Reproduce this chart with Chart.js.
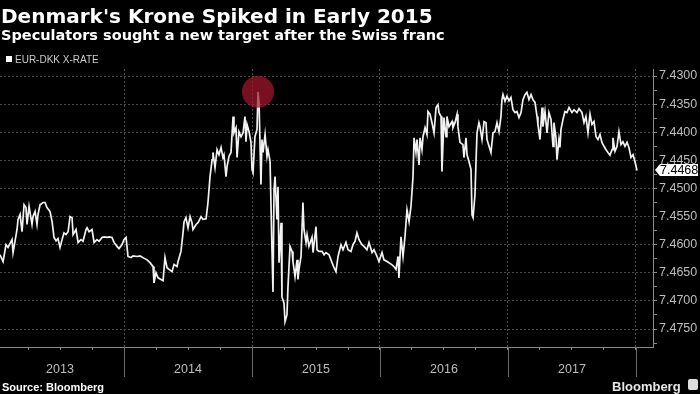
<!DOCTYPE html>
<html>
<head>
<meta charset="utf-8">
<script src="https://cdn.jsdelivr.net/npm/chart.js@4.4.1/dist/chart.umd.min.js"></script>
<style>
  html, body { margin: 0; padding: 0; background: #000; width: 700px; height: 394px; overflow: hidden; }
  #wrap { position: relative; width: 700px; height: 394px; }
  canvas { position: absolute; left: 0; top: 0; }
  .txt { position: absolute; white-space: nowrap; line-height: 1; }
  #title { left: 1px; top: 4px; font: bold 20px "DejaVu Sans"; color: #fff; }
  #subtitle { left: 1px; top: 27px; font: bold 14.5px "DejaVu Sans"; color: #fff; }
  #legendBox { position: absolute; left: 6px; top: 56px; width: 6px; height: 6px; background: #fff; }
  #legendTxt { left: 15px; top: 54px; font: 10px "Liberation Sans"; color: #ccc; }
  #source { left: 2px; top: 381px; font: bold 11px "Liberation Sans"; color: #fff; }
  #brand { left: 612px; top: 379px; font: bold 13px "Liberation Sans"; color: #e6e6e6; }
  #icon { position: absolute; left: 688px; top: 379px; width: 10px; height: 11px; background: #ddd; border-radius: 2px; }
</style>
</head>
<body>
<div id="wrap">
  <canvas id="chart" width="700" height="394"></canvas>
  <div class="txt" id="title">Denmark's Krone Spiked in Early 2015</div>
  <div class="txt" id="subtitle">Speculators sought a new target after the Swiss franc</div>
  <div id="legendBox"></div>
  <div class="txt" id="legendTxt">EUR-DKK X-RATE</div>
  <div class="txt" id="source">Source: Bloomberg</div>
  <div class="txt" id="brand">Bloomberg</div>
  <div id="icon"></div>
</div>
<script>
// dates as decimal years
const dates = [
  2013.031, 2013.055, 2013.078, 2013.094, 2013.125, 2013.133, 2013.148, 2013.164, 2013.172, 2013.188,
  2013.203, 2013.219, 2013.234, 2013.242, 2013.258, 2013.281, 2013.289, 2013.305, 2013.320, 2013.328,
  2013.344, 2013.367, 2013.383, 2013.398, 2013.422, 2013.438, 2013.453, 2013.469, 2013.484, 2013.500,
  2013.516, 2013.531, 2013.547, 2013.563, 2013.578, 2013.594, 2013.602, 2013.625, 2013.641, 2013.664,
  2013.680, 2013.703, 2013.711, 2013.727, 2013.750, 2013.766, 2013.789, 2013.805, 2013.828, 2013.844,
  2013.867, 2013.883, 2013.906, 2013.922, 2013.945, 2013.961, 2013.984, 2014.000, 2014.016, 2014.031,
  2014.055, 2014.070, 2014.102, 2014.125, 2014.148, 2014.180, 2014.203, 2014.227, 2014.234, 2014.250,
  2014.266, 2014.289, 2014.305, 2014.320, 2014.336, 2014.352, 2014.375, 2014.391, 2014.414, 2014.422,
  2014.445, 2014.461, 2014.469, 2014.484, 2014.500, 2014.516, 2014.531, 2014.539, 2014.563, 2014.578,
  2014.602, 2014.617, 2014.641, 2014.656, 2014.672, 2014.688, 2014.695, 2014.711, 2014.727, 2014.742,
  2014.758, 2014.773, 2014.781, 2014.797, 2014.805, 2014.820, 2014.836, 2014.852, 2014.859, 2014.875,
  2014.883, 2014.898, 2014.914, 2014.930, 2014.945, 2014.953, 2014.961, 2014.977, 2014.992, 2015.000,
  2015.008, 2015.023, 2015.039, 2015.047, 2015.055, 2015.070, 2015.078, 2015.086, 2015.102, 2015.117,
  2015.125, 2015.141, 2015.156, 2015.164, 2015.172, 2015.180, 2015.195, 2015.203, 2015.211, 2015.227,
  2015.234, 2015.250, 2015.258, 2015.273, 2015.281, 2015.297, 2015.313, 2015.320, 2015.336, 2015.352,
  2015.359, 2015.367, 2015.383, 2015.398, 2015.406, 2015.422, 2015.430, 2015.445, 2015.469, 2015.477,
  2015.500, 2015.508, 2015.523, 2015.547, 2015.563, 2015.578, 2015.602, 2015.625, 2015.641, 2015.656,
  2015.672, 2015.695, 2015.711, 2015.734, 2015.750, 2015.773, 2015.789, 2015.805, 2015.820, 2015.836,
  2015.859, 2015.875, 2015.898, 2015.914, 2015.938, 2015.953, 2015.977, 2015.992, 2016.016, 2016.031,
  2016.055, 2016.070, 2016.094, 2016.109, 2016.125, 2016.141, 2016.148, 2016.164, 2016.180, 2016.195,
  2016.211, 2016.227, 2016.242, 2016.258, 2016.266, 2016.281, 2016.289, 2016.305, 2016.313, 2016.328,
  2016.336, 2016.352, 2016.367, 2016.375, 2016.391, 2016.406, 2016.422, 2016.438, 2016.453, 2016.461,
  2016.477, 2016.484, 2016.500, 2016.516, 2016.523, 2016.539, 2016.563, 2016.570, 2016.586, 2016.602,
  2016.609, 2016.625, 2016.648, 2016.656, 2016.672, 2016.680, 2016.695, 2016.711, 2016.719, 2016.727,
  2016.742, 2016.750, 2016.758, 2016.773, 2016.781, 2016.797, 2016.813, 2016.828, 2016.836, 2016.852,
  2016.867, 2016.883, 2016.898, 2016.914, 2016.930, 2016.945, 2016.953, 2016.961, 2016.977, 2016.992,
  2017.008, 2017.023, 2017.039, 2017.055, 2017.070, 2017.086, 2017.102, 2017.117, 2017.133, 2017.148,
  2017.164, 2017.180, 2017.195, 2017.211, 2017.227, 2017.234, 2017.250, 2017.266, 2017.273, 2017.289,
  2017.305, 2017.320, 2017.336, 2017.352, 2017.359, 2017.375, 2017.383, 2017.398, 2017.406, 2017.414,
  2017.430, 2017.445, 2017.461, 2017.477, 2017.500, 2017.516, 2017.539, 2017.555, 2017.578, 2017.594,
  2017.609, 2017.625, 2017.641, 2017.656, 2017.672, 2017.688, 2017.703, 2017.719, 2017.734, 2017.750,
  2017.766, 2017.781, 2017.797, 2017.813, 2017.820, 2017.836, 2017.852, 2017.867, 2017.883, 2017.898,
  2017.914, 2017.930, 2017.945, 2017.961, 2017.977, 2017.992, 2018.008
];

// EUR-DKK rate
const rates = [
  7.4618, 7.4630, 7.4600, 7.4605, 7.4591, 7.4614, 7.4594, 7.4573, 7.4555, 7.4546,
  7.4577, 7.4529, 7.4534, 7.4564, 7.4532, 7.4564, 7.4550, 7.4541, 7.4564, 7.4546,
  7.4529, 7.4525, 7.4525, 7.4534, 7.4541, 7.4559, 7.4587, 7.4593, 7.4589, 7.4605,
  7.4591, 7.4579, 7.4582, 7.4577, 7.4550, 7.4552, 7.4582, 7.4573, 7.4596, 7.4591,
  7.4594, 7.4573, 7.4570, 7.4577, 7.4573, 7.4596, 7.4591, 7.4594, 7.4587, 7.4586,
  7.4587, 7.4586, 7.4587, 7.4596, 7.4603, 7.4607, 7.4600, 7.4591, 7.4587, 7.4621,
  7.4623, 7.4620, 7.4621, 7.4620, 7.4623, 7.4627, 7.4632, 7.4639, 7.4668, 7.4650,
  7.4659, 7.4662, 7.4664, 7.4623, 7.4641, 7.4644, 7.4648, 7.4635, 7.4639, 7.4630,
  7.4612, 7.4579, 7.4559, 7.4552, 7.4570, 7.4550, 7.4561, 7.4573, 7.4564, 7.4561,
  7.4550, 7.4555, 7.4554, 7.4525, 7.4479, 7.4449, 7.4436, 7.4463, 7.4431, 7.4440,
  7.4427, 7.4445, 7.4440, 7.4479, 7.4461, 7.4443, 7.4436, 7.4372, 7.4401, 7.4392,
  7.4445, 7.4399, 7.4408, 7.4401, 7.4372, 7.4417, 7.4386, 7.4399, 7.4418, 7.4466,
  7.4472, 7.4408, 7.4395, 7.4328, 7.4347, 7.4493, 7.4413, 7.4436, 7.4404, 7.4443,
  7.4431, 7.4452, 7.4609, 7.4684, 7.4502, 7.4479, 7.4555, 7.4497, 7.4632, 7.4561,
  7.4693, 7.4704, 7.4737, 7.4725, 7.4675, 7.4603, 7.4612, 7.4630, 7.4657, 7.4627,
  7.4662, 7.4644, 7.4621, 7.4525, 7.4573, 7.4596, 7.4582, 7.4603, 7.4587, 7.4614,
  7.4568, 7.4609, 7.4612, 7.4612, 7.4618, 7.4614, 7.4618, 7.4632, 7.4641, 7.4648,
  7.4621, 7.4600, 7.4609, 7.4596, 7.4609, 7.4612, 7.4600, 7.4594, 7.4579, 7.4591,
  7.4600, 7.4603, 7.4609, 7.4596, 7.4614, 7.4609, 7.4621, 7.4630, 7.4614, 7.4627,
  7.4630, 7.4632, 7.4636, 7.4639, 7.4644, 7.4621, 7.4659, 7.4586, 7.4621, 7.4586,
  7.4538, 7.4559, 7.4532, 7.4479, 7.4410, 7.4436, 7.4413, 7.4458, 7.4410, 7.4431,
  7.4408, 7.4392, 7.4404, 7.4363, 7.4368, 7.4383, 7.4401, 7.4356, 7.4351, 7.4365,
  7.4372, 7.4470, 7.4374, 7.4408, 7.4372, 7.4390, 7.4381, 7.4392, 7.4383, 7.4368,
  7.4390, 7.4418, 7.4422, 7.4445, 7.4410, 7.4440, 7.4452, 7.4466, 7.4547, 7.4552,
  7.4511, 7.4454, 7.4401, 7.4383, 7.4390, 7.4413, 7.4381, 7.4383, 7.4413, 7.4425,
  7.4436, 7.4401, 7.4399, 7.4383, 7.4399, 7.4372, 7.4342, 7.4333, 7.4345, 7.4336,
  7.4344, 7.4338, 7.4360, 7.4365, 7.4363, 7.4374, 7.4365, 7.4342, 7.4333, 7.4329,
  7.4342, 7.4333, 7.4342, 7.4347, 7.4372, 7.4386, 7.4413, 7.4356, 7.4390, 7.4363,
  7.4401, 7.4365, 7.4377, 7.4425, 7.4383, 7.4410, 7.4449, 7.4413, 7.4427, 7.4395,
  7.4377, 7.4363, 7.4365, 7.4356, 7.4365, 7.4360, 7.4365, 7.4358, 7.4365, 7.4383,
  7.4372, 7.4401, 7.4368, 7.4386, 7.4381, 7.4408, 7.4413, 7.4404, 7.4418, 7.4425,
  7.4431, 7.4436, 7.4441, 7.4431, 7.4410, 7.4434, 7.4425, 7.4399, 7.4422, 7.4417,
  7.4425, 7.4418, 7.4427, 7.4445, 7.4440, 7.4452, 7.4468
];

const yearLabels = ['2013', '2014', '2015', '2016', '2017'];
const yearBreaks = [2014, 2015, 2016, 2017, 2018];

const nearInt = v => Math.abs(v - Math.round(v)) < 1e-6;
const isMajorY = v => nearInt(v * 200);

// extra drawing: year lines below the axis, peak circle, last value tag
const decor = {
  id: 'decor',
  afterDatasetsDraw(chart) {
    const { ctx, scales: { x, y }, chartArea } = chart;
    ctx.save();
    // year separators below the axis
    ctx.strokeStyle = '#6a6a6a';
    ctx.lineWidth = 1;
    yearBreaks.forEach(yr => {
      const px = Math.round(x.getPixelForValue(yr)) + 0.5;
      ctx.beginPath();
      ctx.moveTo(px, chartArea.bottom);
      ctx.lineTo(px, chartArea.bottom + 30);
      ctx.stroke();
    });
    // red circle at the peak
    let peak = 0;
    rates.forEach((r, i) => { if (r < rates[peak]) peak = i; });
    ctx.fillStyle = 'rgba(165, 22, 45, 0.72)';
    ctx.beginPath();
    ctx.arc(x.getPixelForValue(dates[peak]), y.getPixelForValue(rates[peak]), 16, 0, Math.PI * 2);
    ctx.fill();
    // last value tag
    const last = rates[rates.length - 1];
    const ty = Math.round(y.getPixelForValue(last));
    const left = chartArea.right + 2;
    ctx.fillStyle = '#fff';
    ctx.beginPath();
    ctx.moveTo(left, ty);
    ctx.lineTo(left + 5, ty - 6);
    ctx.lineTo(698, ty - 6);
    ctx.lineTo(698, ty + 6);
    ctx.lineTo(left + 5, ty + 6);
    ctx.closePath();
    ctx.fill();
    ctx.fillStyle = '#000';
    ctx.font = '12.5px "Liberation Sans"';
    ctx.textBaseline = 'middle';
    ctx.fillText(last.toFixed(4), left + 5, ty + 0.5);
    ctx.restore();
  }
};

new Chart(document.getElementById('chart'), {
  type: 'line',
  data: {
    datasets: [{
      label: 'EUR-DKK X-RATE',
      data: dates.map((d, i) => ({ x: d, y: rates[i] })),
      borderColor: '#f2f2f2',
      borderWidth: 1.7,
      pointRadius: 0,
      tension: 0
    }]
  },
  options: {
    responsive: false,
    animation: false,
    layout: { padding: { top: 69, left: 0, right: 0, bottom: 0 } },
    plugins: { legend: { display: false }, title: { display: false }, tooltip: { enabled: false } },
    scales: {
      x: {
        type: 'linear',
        min: 2013.031,
        max: 2018.133,
        afterFit: s => { s.height = 47; },
        border: { display: true, color: '#8a8a8a', width: 1, dash: [2, 2] },
        grid: {
          color: c => (c.tick && nearInt(c.tick.value)) ? '#4a4a4a' : 'rgba(0,0,0,0)',
          tickColor: '#8a8a8a',
          tickLength: 3
        },
        ticks: {
          stepSize: 0.25,
          includeBounds: false,
          autoSkip: false,
          maxRotation: 0,
          padding: 12,
          color: '#bdbdbd',
          font: { family: 'Liberation Sans', size: 12.5 },
          callback: v => {
            const k = Math.round(v - 0.5) - 2013;
            return nearInt(v - 0.5) && yearLabels[k] ? yearLabels[k] : '';
          }
        }
      },
      y: {
        position: 'right',
        reverse: true,
        min: 7.42875,
        max: 7.4782,
        afterFit: s => { s.width = 47; },
        border: { display: true, color: '#8a8a8a', width: 1, dash: [2, 2] },
        grid: {
          color: c => (c.tick && isMajorY(c.tick.value)) ? '#4a4a4a' : 'rgba(0,0,0,0)',
          tickColor: '#8a8a8a',
          tickLength: 4
        },
        ticks: {
          stepSize: 0.0025,
          includeBounds: false,
          autoSkip: false,
          padding: 2,
          color: '#bdbdbd',
          font: { family: 'Liberation Sans', size: 12.5 },
          callback: v => isMajorY(v) ? v.toFixed(4) : ''
        }
      }
    }
  },
  plugins: [decor]
});
</script>
</body>
</html>
